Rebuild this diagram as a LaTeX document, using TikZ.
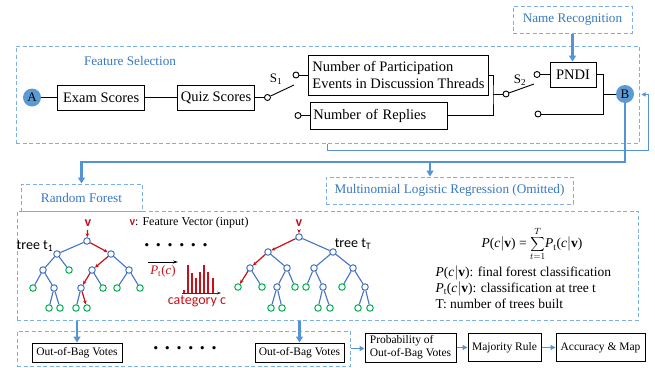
\documentclass[tikz,border=0pt]{standalone}
\usepackage{fontspec}
\setmainfont{Liberation Serif}
\setsansfont{Carlito}
\usepackage{tikz}
\usetikzlibrary{positioning,arrows.meta,calc}
\definecolor{dashcol}{RGB}{125,175,228}
\definecolor{labcol} {RGB}{55,120,192}
\definecolor{flowcol}{RGB}{85,148,212}
\definecolor{ballcol}{RGB}{91,155,213}
\definecolor{treecol}{RGB}{70,115,195}
\definecolor{leafcol}{RGB}{0,176,80}
\definecolor{redcol} {RGB}{200,16,24}

\begin{document}
\begin{tikzpicture}[x=1pt,y=-1pt,
  box/.style={draw,line width=0.9pt,inner sep=2pt,font=\fontsize{14.5}{16.5}\selectfont},
  bbox/.style={draw,line width=1pt,inner sep=2pt,font=\fontsize{11.5}{13}\selectfont},
  dbox/.style={draw=dashcol,dash pattern=on 4pt off 2.5pt,line width=1pt,
               text=labcol,font=\fontsize{13.2}{15}\selectfont},
  cont/.style={circle,draw,line width=0.9pt,fill=white,inner sep=0pt,minimum size=6pt},
  ball/.style={circle,fill=ballcol,inner sep=0pt,minimum size=18pt,font=\fontsize{13}{13}\selectfont},
  wire/.style={line width=0.9pt},
  flow/.style={-{Triangle[length=6pt,width=7pt]},line width=2.2pt,flowcol},
  larr/.style={-{Triangle[length=5pt,width=5pt]},line width=1.4pt,flowcol},
  fbk/.style={-{Triangle[length=4pt,width=4pt]},line width=1pt,flowcol},
  tn/.style={circle,draw=treecol,fill=white,line width=1pt,inner sep=0pt,minimum size=6.5pt},
  lf/.style={tn,draw=leafcol},
  te/.style={treecol,line width=1.1pt},
  re/.style={redcol,line width=1.2pt,-{Stealth[length=4pt,width=3.5pt]}},
  vlab/.style={text=redcol,font=\fontsize{14}{14}\selectfont\sffamily\bfseries},
  tlab/.style={font=\fontsize{14}{14}\selectfont\sffamily},
  dots/.style={font=\fontsize{20}{20}\selectfont\bfseries},
  >=Stealth
]
\useasboundingbox (0,0) rectangle (655,367);

% feature selection
\node[dbox,minimum width=623pt,minimum height=97pt] (fs) at (327.5,94.5) {};
\node[text=labcol,font=\fontsize{13.2}{15}\selectfont] (fslab) at (130,61) {Feature Selection};
\node[dbox,minimum width=119pt,minimum height=27pt] (nr) at (572.5,19.5) {Name Recognition};

\node[ball] (A) at (32,97.5) {A};
\node[box,minimum width=87pt,minimum height=25pt,right=16pt of A] (exam) {Exam Scores};
\node[box,minimum width=77pt,minimum height=25pt,right=32pt of exam] (quiz) {Quiz Scores};
\draw[wire] (A) -- (exam); \draw[wire] (exam) -- (quiz);

% switch S1
\node[cont,right=9pt of quiz] (s1) {};
\node[cont] (s1u) at (296,75) {};
\node[cont] (s1d) at (298,115.5) {};
\coordinate (s1e) at (294,85);
\node[font=\fontsize{13}{13}\selectfont] (s1lab) at (276,79) {S\textsubscript{1}};
\draw[wire] (quiz.east) -- (s1); \draw[wire] (s1) -- (s1e);

\node[box,minimum width=180pt,minimum height=40pt,align=left,anchor=west] (nop) at (308,75)
  {Number of Participation\\Events in Discussion Threads};
\node[box,minimum width=137pt,minimum height=27pt,text width=131pt,align=left,anchor=west] (rep)
  at (310,115.5) {Number of Replies};
\draw[wire] (s1u) -- (nop); \draw[wire] (s1d) -- (rep);

% switch S2
\coordinate (j1) at (493,94);
\draw[wire] (nop.east) -| (j1) |- (rep.east);
\node[cont] (s2) at (506,94) {};
\node[cont] (s2u) at (537,74.5) {};
\node[cont] (s2d) at (538,114) {};
\coordinate (s2e) at (534,84);
\node[font=\fontsize{13}{13}\selectfont] (s2lab) at (520,80) {S\textsubscript{2}};
\draw[wire] (j1) -- (s2); \draw[wire] (s2) -- (s2e);

\node[box,minimum width=46pt,minimum height=25pt] (pndi) at (573,74.5) {PNDI};
\draw[wire] (s2u) -- (pndi);
\coordinate (j2) at (603,94);
\node[ball] (B) at (625,94) {B};
\draw[wire] (pndi.east) -| (j2) |- (s2d);
\draw[wire] (j2) -- (B);
\draw[flow] (nr.south) -- (nr.south |- pndi.north);

% feedback and flow to the models
\coordinate (fbr) at (648,150);
\draw[fbk] (fs.south) |- (fbr) |- ([xshift=2pt]fs.east);
\node[dbox,minimum width=121pt,minimum height=27pt] (rf) at (81.5,197.5) {Random Forest};
\node[dbox,minimum width=247pt,minimum height=27pt] (mlr) at (449.5,190.5)
  {Multinomial Logistic Regression (Omitted)};
\coordinate (bd) at (625,162);
\coordinate (br) at (430,162);
\draw[flow] (B) -- (bd) -| (rf);
\draw[flow] (br) -- (br |- mlr.north);

% random forest
\node[dbox,minimum width=621pt,minimum height=109pt] (forest) at (327.5,265.5) {};

% tree t1
\foreach \n/\x/\y in {r/87/241,a/57/254,b/111/254,aa/43/270,ba/92/270,bb/129/270,aab/54/288,baa/81/288}
  \node[tn] (p\n) at (\x,\y) {};
\foreach \n/\x/\y in {ab/69/270,aaa/33/288,bab/103/288,bba/117/288,bbb/140/288,
                      aaba/49/308,aabb/60/308,baaa/76/308,baab/87/308}
  \node[lf] (p\n) at (\x,\y) {};
\foreach \u/\w in {r/a,a/aa,a/ab,b/bb,aa/aaa,aa/aab,ba/bab,bb/bba,bb/bbb,aab/aaba,aab/aabb,baa/baaa}
  \draw[te] (p\u) -- (p\w);
\foreach \u/\w in {r/b,b/ba,ba/baa,baa/baab}
  \draw[re] (p\u) -- (p\w);
\node[vlab] (v1) at (88,223) {v};
\draw[re] (v1) -- (pr);
\node[tlab] (t1lab) at (35,246) {tree t\textsubscript{1}};

% tree tT
\foreach \n/\x/\y in {r/299/237,a/268/252,b/333/252,aa/250/268,ab/287/268,ba/314/268,bb/353/268,
                      aba/277/287,bab/323/287,bbb/365/287}
  \node[tn] (q\n) at (\x,\y) {};
\foreach \n/\x/\y in {aaa/238/287,aab/262/287,abb/295/287,baa/306/287,bba/342/287,
                      abaa/271/308,abab/282/308,baba/318/308,babb/330/308,bbba/358/308,bbbb/370/308}
  \node[lf] (q\n) at (\x,\y) {};
\foreach \u/\w in {r/b,a/ab,b/ba,b/bb,aa/aab,ab/aba,ab/abb,ba/baa,ba/bab,bb/bba,bb/bbb,
                   aba/abaa,aba/abab,bab/baba,bab/babb,bbb/bbba,bbb/bbbb}
  \draw[te] (q\u) -- (q\w);
\foreach \u/\w in {r/a,a/aa,aa/aaa}
  \draw[re] (q\u) -- (q\w);
\node[vlab] (v2) at (299,223) {v};
\draw[re] (v2) -- (qr);
\node[tlab] (tTlab) at (353,244) {tree t\textsubscript{T}};

% votes of one tree
\node[font=\fontsize{12}{12}\selectfont] (fv) at (189,223)
  {\textcolor{redcol}{\sffamily\bfseries v}: Feature Vector (input)};
\node[dots] (dots1) at (176,245) {. . . . . .};
\coordinate (pta) at (148,262);
\coordinate (ptb) at (178,262);
\draw[-{Stealth[length=5pt,width=3pt]},line width=0.8pt] (pta) -- (ptb)
  node[midway,below=0pt,text=redcol,font=\fontsize{13}{13}\selectfont] {\textit{P}\textsubscript{t}(\textit{c})};
\foreach \x/\h in {184/290,188/265,192/273,196/278,200/272,204/265,208/272,213/278}
  \draw[redcol,line width=1.3pt] (\x,293) -- (\x,\h);
\coordinate (ax0) at (182,293);
\coordinate (ax1) at (221,293);
\draw[-{Stealth[length=4pt,width=3pt]},line width=0.8pt,black!80] (ax0) -- (ax1);
\node[text=redcol,font=\fontsize{14}{14}\selectfont\sffamily] (cat) at (197,301) {category c};

% forest formula
\node[font=\fontsize{13.5}{16}\selectfont] (eq) at (532,244)
  {\textit{P}(\textit{c}$|$\textbf{v}) = $\displaystyle\sum_{t=1}^{T}$\textit{P}\textsubscript{t}(\textit{c}$|$\textbf{v})};
\node[font=\fontsize{13.5}{16}\selectfont,align=left,anchor=west] (desc) at (432,287)
  {\textit{P}(\textit{c}$|$\textbf{v}): final forest classification\\
   \textit{P}\textsubscript{t}(\textit{c}$|$\textbf{v}): classification at tree t\\
   T: number of trees built};

% out-of-bag votes
\node[dbox,minimum width=333pt,minimum height=35pt] (oob) at (183.5,348.5) {};
\node[bbox,minimum width=90pt,minimum height=19pt] (ob1) at (77,352.5) {Out-of-Bag Votes};
\node[bbox,minimum width=89pt,minimum height=19pt] (ob2) at (299.5,352.5) {Out-of-Bag Votes};
\node[dots] (dots2) at (185,348) {. . . . . .};
\draw[flow] (ob1 |- forest.south) -- (ob1);
\draw[flow] (ob2 |- forest.south) -- (ob2);
\node[bbox,minimum width=91pt,minimum height=29pt,align=left] (prob) at (410.5,347.5)
  {Probability of\\Out-of-Bag Votes};
\node[bbox,minimum width=73pt,minimum height=28pt,right=11pt of prob] (maj) {Majority Rule};
\node[bbox,minimum width=89pt,minimum height=28pt,right=14pt of maj] (acc) {Accuracy \& Map};
\draw[larr] (oob.east) -- (oob.east -| prob.west);
\draw[larr] (prob) -- (maj); \draw[larr] (maj) -- (acc);
\end{tikzpicture}
\end{document}
